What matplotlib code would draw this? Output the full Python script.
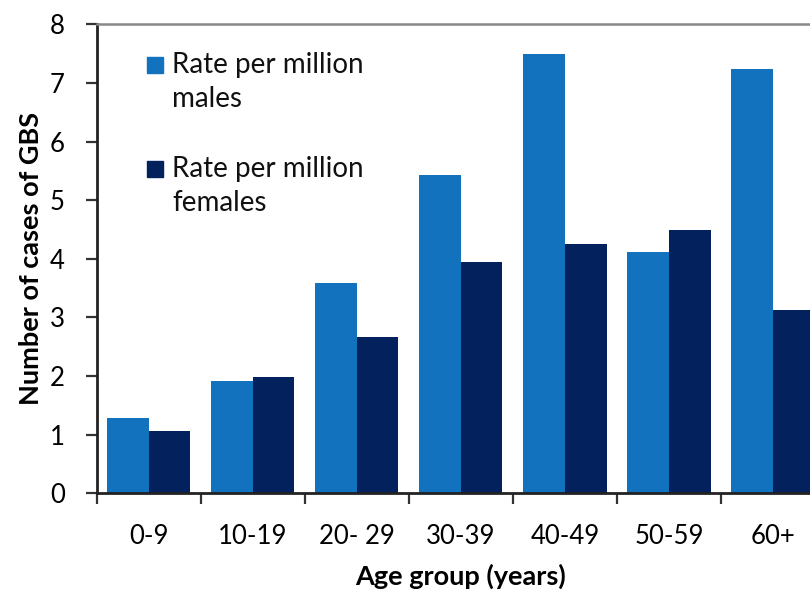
import matplotlib.pyplot as plt
import numpy as np
from matplotlib.patches import Rectangle

# GBS rates by age group and sex
age_groups = ["0-9", "10-19", "20- 29", "30-39", "40-49", "50-59", "60+"]
males = [1.28, 1.92, 3.58, 5.43, 7.49, 4.12, 7.24]
females = [1.06, 1.99, 2.66, 3.94, 4.26, 4.49, 3.12]

male_color = "#1372BD"
female_color = "#03215C"

plt.rcParams['font.family'] = ['Lato', 'DejaVu Sans']

W, H = 810, 596
fig = plt.figure(figsize=(W / 100, H / 100), dpi=100)


def fx(px):
    return px / W


def fy(py):
    return 1 - py / H


# axes run off the right edge, so the last bar is clipped
left, right = 96.7, 825.0
top, bottom = 24.3, 493.3
ax = fig.add_axes([fx(left), fy(bottom), fx(right - left), fy(top) - fy(bottom)])

x = np.arange(len(age_groups))
width = 0.4
ax.bar(x - width / 2, males, width, color=male_color, linewidth=0)
ax.bar(x + width / 2, females, width, color=female_color, linewidth=0)

ax.set_xlim(-0.5, len(age_groups) - 0.5)
ax.set_ylim(0, 8)
ax.set_yticks(range(0, 9))

# labels sit under the groups, tick marks between them
ax.set_xticks(x)
ax.set_xticklabels(age_groups, fontsize=18.5)
ax.tick_params(axis='x', which='major', length=0, pad=22)
ax.set_xticks(np.arange(-0.5, len(age_groups) + 0.5, 1), minor=True)
ax.tick_params(axis='x', which='minor', length=8, width=1.6, color='#333333')
ax.tick_params(axis='y', length=8, width=1.6, color='#333333', pad=15, labelsize=18.5)

for s in ('left', 'bottom'):
    ax.spines[s].set_color('#222222')
    ax.spines[s].set_linewidth(2)
ax.spines['top'].set_color('#888888')
ax.spines['top'].set_linewidth(1.8)
ax.spines['right'].set_visible(False)

ax.set_ylabel("Number of cases of GBS", fontsize=19.5, fontweight='bold', labelpad=5)
ax.set_xlabel("Age group (years)", fontsize=19.5, fontweight='bold', labelpad=11)

# legend drawn by hand so the square lines up with the first text line
legend_items = [("Rate per million\nmales", male_color, 65),
                ("Rate per million\nfemales", female_color, 169)]
for label, color, cy in legend_items:
    fig.patches.append(Rectangle((fx(147), fy(cy + 8)), fx(16), fy(cy - 8) - fy(cy + 8),
                                 transform=fig.transFigure, color=color))
    fig.text(fx(172), fy(cy - 13), label, fontsize=20, va='top', ha='left',
             linespacing=1.4, color='#111111')

fig.savefig("out.png", dpi=100)
